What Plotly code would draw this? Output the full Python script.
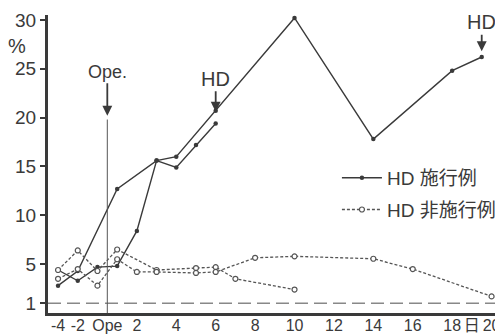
import plotly.graph_objects as go

# ---- data (days relative to operation, value in %) ----
hd_a_days = [-4, -2, 1, 3, 4, 6, 10, 14, 18, 19.5]
hd_a_vals = [2.8, 4.3, 12.7, 15.6, 16.0, 20.7, 30.2, 17.8, 24.8, 26.2]
hd_b_days = [-4, -2, 0, 1, 2, 3, 4, 5, 6]
hd_b_vals = [4.4, 3.3, 4.7, 4.8, 8.4, 15.6, 14.9, 17.2, 19.4]
non_c_days = [-4, -2, 0, 1, 3, 5, 6, 7, 10]
non_c_vals = [4.4, 6.4, 4.3, 6.5, 4.4, 4.6, 4.7, 3.5, 2.4]
non_d_days = [-4, -2, 0, 1, 2, 3, 5, 6, 8, 10, 14, 16, 20]
non_d_vals = [3.5, 4.5, 2.8, 5.5, 4.2, 4.2, 4.1, 4.2, 5.65, 5.8, 5.55, 4.5, 1.7]

tick_days = [-4, -2, 0.5, 2, 4, 6, 8, 10, 12, 14, 16, 18, 19, 20]
tick_text = ["-4", "-2", "Ope", "2", "4", "6", "8", "10", "12", "14", "16", "18", "日", "20"]
y_ticks = [1, 5, 10, 15, 20, 25, 30]
legend_names = ["HD 施行例", "HD 非施行例"]


def pos(d):
    # pre-operative days are drawn on a half-compressed scale
    return d / 2 if d < 0 else d


FONT = "Liberation Sans, Noto Sans CJK JP, sans-serif"
DARK = "#3a3a3a"

fig = go.Figure()

solid = [(hd_a_days, hd_a_vals), (hd_b_days, hd_b_vals)]
dashed = [(non_c_days, non_c_vals), (non_d_days, non_d_vals)]

for i, (d, v) in enumerate(solid):
    fig.add_trace(go.Scatter(
        x=[pos(t) for t in d], y=v, mode="lines+markers",
        line=dict(color=DARK, width=1.4),
        marker=dict(color=DARK, size=4.5, symbol="circle"),
        name=legend_names[0], legendgroup="hd", showlegend=(i == 0),
        cliponaxis=False))

for i, (d, v) in enumerate(dashed):
    fig.add_trace(go.Scatter(
        x=[pos(t) for t in d], y=v, mode="lines+markers",
        line=dict(color="#555", width=1.3, dash="3px,2px"),
        marker=dict(color="white", size=5, symbol="circle",
                    line=dict(color="#555", width=1.2)),
        name=legend_names[1], legendgroup="non", showlegend=(i == 0),
        cliponaxis=False))

# reference line at 1 %
fig.add_shape(type="line", xref="paper", x0=0, x1=1, yref="y", y0=1, y1=1,
              line=dict(color="#888", width=1.5, dash="13px,6px"))
# operation line
fig.add_shape(type="line", xref="x", x0=pos(0.5), x1=pos(0.5), yref="y", y0=0, y1=19.8,
              line=dict(color="#555", width=1))

ann_font = dict(family=FONT, size=20, color=DARK)
fig.add_annotation(x=pos(0.5), y=20.2, text="Ope.", showarrow=True, ax=0, ay=-44,
                   arrowhead=2, arrowsize=1.1, arrowwidth=1.8, arrowcolor=DARK,
                   font=dict(family=FONT, size=18, color=DARK))
fig.add_annotation(x=pos(6), y=20.6, text="HD", showarrow=True, ax=0, ay=-33,
                   arrowhead=2, arrowsize=1.1, arrowwidth=1.8, arrowcolor=DARK, font=ann_font)
fig.add_annotation(x=pos(19.5), y=26.8, text="HD", showarrow=True, ax=0, ay=-29,
                   arrowhead=2, arrowsize=1.1, arrowwidth=1.8, arrowcolor=DARK, font=ann_font)
fig.add_annotation(xref="paper", yref="paper", x=-0.068, y=0.896, text="%", showarrow=False,
                   font=dict(family=FONT, size=20, color=DARK), xanchor="center", yanchor="middle")

# the page places the figure 8px from the top-left corner
fig.update_layout(
    width=503, height=335,
    margin=dict(l=40, r=8, t=7, b=30),
    paper_bgcolor="white", plot_bgcolor="white",
    font=dict(family=FONT, size=18, color=DARK),
    showlegend=True,
    legend=dict(x=0.635, y=0.517, xanchor="left", yanchor="top",
                bgcolor="rgba(0,0,0,0)", font=dict(family=FONT, size=19, color=DARK),
                itemwidth=40, tracegroupgap=4),
)
fig.update_xaxes(range=[-2.51, 20.58], showgrid=False, zeroline=False, automargin=False,
                 showline=True, linecolor=DARK, linewidth=3,
                 tickmode="array", tickvals=[pos(t) for t in tick_days], ticktext=tick_text,
                 ticks="", tickangle=0, ticklabelstandoff=-4,
                 tickfont=dict(family=FONT, size=16, color=DARK))
fig.update_yaxes(range=[0, 30.5], showgrid=False, zeroline=False, automargin=False,
                 showline=True, linecolor=DARK, linewidth=3,
                 tickmode="array", tickvals=y_ticks, ticks="outside", ticklen=5,
                 tickwidth=1.5, tickcolor=DARK,
                 tickfont=dict(family=FONT, size=19, color=DARK))

fig.write_html("out.html")
